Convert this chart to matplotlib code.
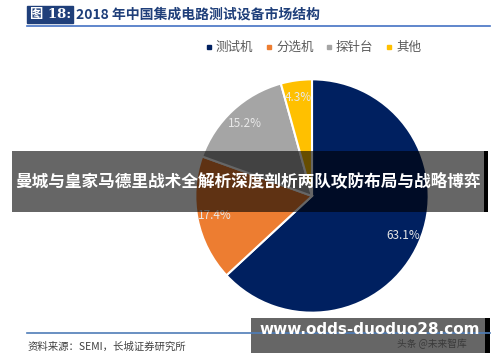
import matplotlib
matplotlib.use('Agg')
import matplotlib.pyplot as plt
from matplotlib.patches import Rectangle

plt.rcParams['font.family'] = ['Noto Sans CJK SC', 'DejaVu Sans']

# data
labels = ['测试机', '分选机', '探针台', '其他']
shares = [63.1, 17.4, 15.2, 4.3]
colors = ['#002060', '#ED7D31', '#A5A5A5', '#FFC000']

title_no = '图 18:'
title = '2018 年中国集成电路测试设备市场结构'
source = '资料来源：SEMI，长城证券研究所'
banner = '曼城与皇家马德里战术全解析深度剖析两队攻防布局与战略博弈'
site = 'www.odds-duoduo28.com'
mark = '头条 @未来智库'

W, H = 500, 362
fig = plt.figure(figsize=(W / 100, H / 100), dpi=100)

# pie, centre (312,196) px, radius 119 px
cx, cy, r = 312, 196, 119
ax = fig.add_axes([(cx - r) / W, (H - cy - r) / H, 2 * r / W, 2 * r / H])
wedges, texts, autotexts = ax.pie(
    shares, colors=colors, startangle=90, counterclock=False,
    autopct='%.1f%%', pctdistance=0.85,
    wedgeprops=dict(edgecolor='white', linewidth=1.5),
    textprops=dict(color='#E8E8E8', fontsize=8.5))
ax.set_xlim(-1.02, 1.02)
ax.set_ylim(-1.02, 1.02)
ax.set_aspect('equal')

# overlay in pixel coords
ov = fig.add_axes([0, 0, 1, 1], facecolor='none')
ov.set_xlim(0, W)
ov.set_ylim(H, 0)
ov.axis('off')

# title
ov.add_patch(Rectangle((27, 6), 46, 17, color='#1F3F7A'))
ov.text(30, 14.5, title_no, color='white', fontsize=9.5, fontweight='bold',
        va='center', ha='left', family=['DejaVu Serif', 'Noto Sans CJK SC'])
ov.text(76, 14.5, title, color='#1F3F7A', fontsize=10, fontweight='bold',
        va='center', ha='left')
ov.plot([27, 490], [26, 26], color='#4472C4', lw=1.2)

# legend
lx = [209, 269, 329, 389]
for x, lab, c in zip(lx, labels, colors):
    ov.add_patch(Rectangle((x - 2, 45), 4, 4, color=c))
    ov.text(x + 7, 47, lab, color='#595959', fontsize=9, va='center', ha='left')

# bottom line and source
ov.plot([27, 490], [333, 333], color='#4F7DB8', lw=1.2)
ov.text(28, 347, source, color='#404040', fontsize=7.5, style='italic',
        va='center', ha='left')

# banner overlay
ov.add_patch(Rectangle((12, 151), 472, 61, color='black', alpha=0.6, lw=0))
ov.add_patch(Rectangle((484, 151), 4, 61, color='black', lw=0))
ov.text(248, 181, banner, color='white', fontsize=12, fontweight='bold',
        va='center', ha='center')

# site watermark
ov.add_patch(Rectangle((251, 318), 234, 35, color='black', alpha=0.6, lw=0))
ov.add_patch(Rectangle((485, 318), 5, 35, color='black', lw=0))
ov.text(432, 344, mark, color='#3A3A3A', fontsize=7, va='center', ha='center')
ov.text(370, 330, site, color='white', fontsize=11, fontweight='bold',
        va='center', ha='center', family=['DejaVu Sans'])

fig.savefig('out.png', dpi=100)
